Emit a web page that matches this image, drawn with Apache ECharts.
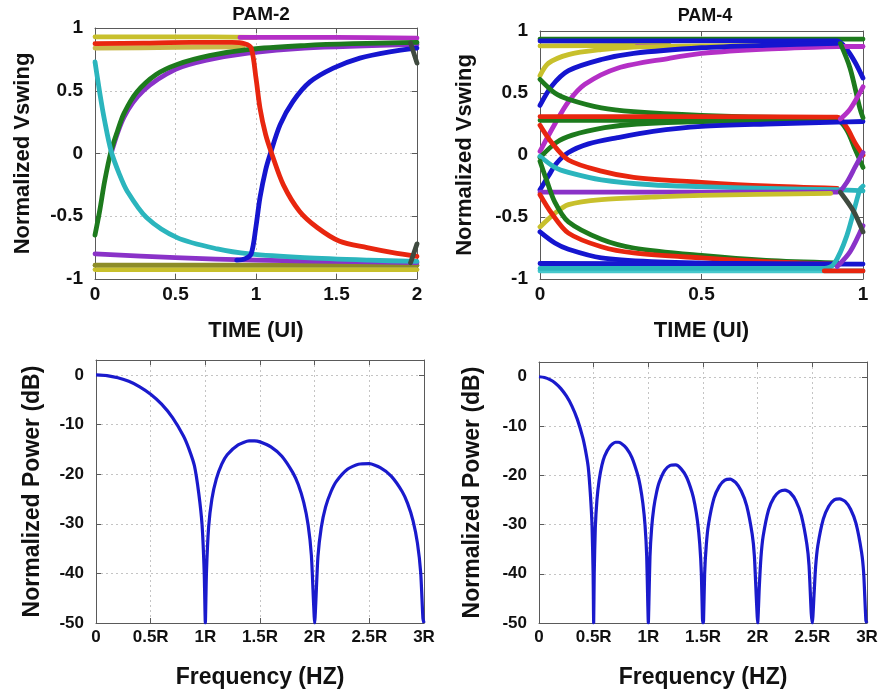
<!DOCTYPE html>
<html>
<head>
<meta charset="utf-8">
<script src="https://cdn.jsdelivr.net/npm/echarts@6/dist/echarts.min.js"></script>
<style>
  html, body { margin: 0; padding: 0; background: #fff; }
  #chart { width: 883px; height: 698px; }
</style>
</head>
<body>
<div id="chart"></div>
<script>
// ---------- PAM-2 eye traces: [time (UI), normalized swing] ----------
const pam2TopYellow   = [[0, 0.93], [0.5, 0.93], [1.0, 0.925]];
const pam2TopKhaki    = [[0, 0.84], [0.5, 0.845], [0.92, 0.85]];
const pam2TopMagenta  = [[0.9, 0.925], [1.5, 0.925], [2, 0.92]];
const pam2RisePurple  = [[0.1, 0.0], [0.18, 0.29], [0.3, 0.5], [0.5, 0.67], [0.7, 0.745], [0.95, 0.8], [1.3, 0.84], [2, 0.87]];
const pam2RiseGreen   = [[0, -0.65], [0.03, -0.45], [0.06, -0.22], [0.1, 0.02], [0.14, 0.18], [0.18, 0.32], [0.26, 0.49], [0.38, 0.63], [0.51, 0.71], [0.71, 0.78], [0.96, 0.83], [1.3, 0.86], [1.6, 0.875], [2, 0.885]];
const pam2FallCyan    = [[0, 0.73], [0.03, 0.48], [0.06, 0.26], [0.1, 0.02], [0.15, -0.16], [0.2, -0.3], [0.32, -0.51], [0.51, -0.67], [0.76, -0.76], [0.96, -0.8], [1.3, -0.83], [1.7, -0.85], [2, -0.86]];
const pam2BottomYellow = [[0, -0.925], [2, -0.925]];
const pam2BottomOlive  = [[0, -0.89], [2, -0.89]];
const pam2BottomPurple = [[0, -0.8], [0.5, -0.83], [1, -0.85], [1.5, -0.86], [2, -0.87]];
const pam2RiseBlue    = [[0.88, -0.85], [0.93, -0.84], [0.97, -0.8], [1.0, -0.58], [1.025, -0.35], [1.06, -0.13], [1.087, -0.01], [1.15, 0.23], [1.23, 0.415], [1.335, 0.57], [1.48, 0.68], [1.645, 0.76], [1.83, 0.81], [2, 0.84]];
const pam2FallRed     = [[0, 0.875], [0.3, 0.88], [0.6, 0.885], [0.85, 0.885], [0.93, 0.875], [0.97, 0.84], [1.0, 0.6], [1.025, 0.36], [1.06, 0.15], [1.1, -0.01], [1.17, -0.25], [1.27, -0.46], [1.38, -0.59], [1.52, -0.7], [1.69, -0.75], [1.85, -0.79], [2, -0.82]];
const pam2EdgeDown    = [[1.96, 0.88], [2, 0.72]];
const pam2EdgeUp      = [[1.96, -0.87], [2, -0.72]];

// ---------- PAM-4 eye traces ----------
const pam4TopGreen      = [[0, 0.935], [1, 0.935]];
const pam4TopBlue       = [[0, 0.92], [0.5, 0.92], [0.92, 0.92], [0.95, 0.85], [0.975, 0.75], [1, 0.62]];
const pam4TopYellow     = [[0, 0.88], [0.4, 0.885]];
const pam4TopMagenta    = [[0.3, 0.875], [1, 0.875]];
const pam4RiseYellow    = [[0, 0.64], [0.026, 0.74], [0.088, 0.81], [0.19, 0.85], [0.29, 0.87], [0.5, 0.88], [0.9, 0.885]];
const pam4RiseBlueHigh  = [[0, 0.4], [0.036, 0.555], [0.088, 0.68], [0.19, 0.77], [0.29, 0.82], [0.5, 0.865], [0.7, 0.885], [0.92, 0.9]];
const pam4RiseMagenta   = [[0, 0.03], [0.046, 0.25], [0.088, 0.43], [0.139, 0.57], [0.24, 0.7], [0.4, 0.78], [0.5, 0.82], [0.7, 0.855], [0.92, 0.875]];
const pam4FallGreenHigh = [[0, 0.61], [0.046, 0.5], [0.088, 0.45], [0.19, 0.38], [0.29, 0.35], [0.5, 0.32], [0.7, 0.305], [0.92, 0.3]];
const pam4FlatRed       = [[0, 0.31], [0.5, 0.31], [0.92, 0.305], [0.95, 0.22], [0.975, 0.1], [1, 0.0]];
const pam4FlatGreen     = [[0, 0.28], [0.92, 0.28], [0.95, 0.2], [0.975, 0.05], [1, -0.1]];
const pam4RiseGreenMid  = [[0, -0.02], [0.05, 0.1], [0.1, 0.16], [0.2, 0.22], [0.3, 0.25], [0.5, 0.27], [0.9, 0.28]];
const pam4RiseBlueMid   = [[0, -0.28], [0.026, -0.17], [0.05, -0.07], [0.088, 0.02], [0.15, 0.09], [0.24, 0.14], [0.35, 0.19], [0.5, 0.23], [0.7, 0.25], [0.92, 0.265], [1, 0.27]];
const pam4FallRedMid    = [[0, 0.24], [0.036, 0.1], [0.088, -0.04], [0.19, -0.13], [0.29, -0.18], [0.5, -0.22], [0.7, -0.25], [0.92, -0.27]];
const pam4FallCyanMid   = [[0, -0.01], [0.046, -0.1], [0.088, -0.14], [0.19, -0.2], [0.345, -0.24], [0.5, -0.255], [0.7, -0.27], [0.92, -0.28], [1, -0.29]];
const pam4FlatPurple    = [[0, -0.3], [0.5, -0.3], [0.92, -0.3], [0.95, -0.22], [0.975, -0.1], [1, 0.02]];
const pam4RiseYellowLow = [[0, -0.58], [0.046, -0.47], [0.088, -0.4], [0.19, -0.36], [0.345, -0.34], [0.5, -0.325], [0.9, -0.31]];
const pam4FallGreenLow  = [[0, -0.05], [0.02, -0.2], [0.046, -0.38], [0.088, -0.54], [0.19, -0.68], [0.29, -0.75], [0.5, -0.81], [0.7, -0.85], [0.92, -0.87]];
const pam4FallRedLow    = [[0, -0.32], [0.036, -0.47], [0.088, -0.63], [0.19, -0.74], [0.29, -0.79], [0.5, -0.83], [0.7, -0.86], [0.92, -0.88]];
const pam4FallBlueLow   = [[0, -0.62], [0.046, -0.71], [0.088, -0.76], [0.19, -0.83], [0.345, -0.86], [0.6, -0.875], [0.92, -0.88]];
const pam4FlatBlueLow   = [[0, -0.875], [1, -0.88]];
const pam4FlatCyanLow   = [[0, -0.935], [1, -0.935]];
const pam4RiseCyanLow   = [[0, -0.915], [0.88, -0.915], [0.91, -0.88], [0.95, -0.65], [0.99, -0.28], [1, -0.25]];
const pam4FlatRedBottom = [[0.88, -0.935], [1, -0.935]];
const pam4RisePurpleLow = [[0.92, -0.9], [0.96, -0.78], [1, -0.57]];
const pam4FallDarkRight = [[0.93, -0.3], [0.97, -0.45], [1, -0.62]];
const pam4FallGreenRight = [[0.93, 0.9], [0.96, 0.7], [0.99, 0.38], [1, 0.3]];
const pam4RiseMagentaRight = [[0.93, 0.29], [0.96, 0.37], [1, 0.55]];

// ---------- Power spectra: [frequency (×R), normalized power (dB)] ----------
const psdPam2 = [
  [0, 0], [0.1, -0.14], [0.2, -0.58], [0.3, -1.3], [0.4, -2.4], [0.5, -3.9], [0.6, -5.9], [0.7, -8.6], [0.8, -12.3], [0.85, -14.9], [0.9, -18.3], [0.94, -23.9], [0.97, -30.2], [0.99, -40], [1.0, -50],
  [1.01, -40], [1.03, -30.7], [1.06, -25], [1.1, -21], [1.15, -18], [1.2, -16.1], [1.3, -14.1], [1.4, -13.3], [1.45, -13.3], [1.5, -13.5], [1.6, -14.5], [1.7, -16.4], [1.8, -19.7], [1.85, -22.1], [1.9, -25.7], [1.94, -30.2], [1.97, -36.4], [1.99, -46], [2.0, -50],
  [2.01, -46], [2.03, -36.6], [2.06, -30.8], [2.1, -26.6], [2.15, -23.5], [2.2, -21.4], [2.3, -19], [2.4, -18], [2.5, -17.9], [2.6, -18.7], [2.7, -20.4], [2.8, -23.5], [2.85, -25.9], [2.9, -29.4], [2.94, -33.9], [2.97, -39.9], [2.99, -49], [3.0, -50]
];
const psdPam4 = [
  [0, 0], [0.05, -0.14], [0.1, -0.58], [0.15, -1.3], [0.2, -2.4], [0.25, -3.9], [0.3, -5.9], [0.35, -8.6], [0.4, -12.3], [0.425, -14.9], [0.45, -18.3], [0.47, -23.9], [0.485, -30.2], [0.495, -40], [0.5, -50],
  [0.505, -40], [0.515, -30.7], [0.53, -25], [0.55, -21], [0.575, -18], [0.6, -16.1], [0.65, -14.1], [0.7, -13.3], [0.725, -13.3], [0.75, -13.5], [0.8, -14.5], [0.85, -16.4], [0.9, -19.7], [0.925, -22.1], [0.95, -25.7], [0.97, -30.2], [0.985, -36.4], [0.995, -46], [1.0, -50],
  [1.005, -46], [1.015, -36.6], [1.03, -30.8], [1.05, -26.6], [1.075, -23.5], [1.1, -21.4], [1.15, -19], [1.2, -18], [1.25, -17.9], [1.3, -18.7], [1.35, -20.4], [1.4, -23.5], [1.425, -25.9], [1.45, -29.4], [1.47, -33.9], [1.485, -39.9], [1.495, -49], [1.5, -50],
  [1.505, -49.5], [1.515, -40], [1.53, -34.2], [1.55, -30], [1.6, -24.7], [1.65, -22.2], [1.7, -21], [1.75, -20.8], [1.8, -21.5], [1.85, -23.2], [1.9, -26.2], [1.95, -32], [1.97, -36.4], [1.99, -46], [2.0, -50],
  [2.015, -42.6], [2.03, -36.7], [2.05, -32.4], [2.1, -27], [2.15, -24.5], [2.2, -23.3], [2.25, -23], [2.3, -23.6], [2.35, -25.2], [2.4, -28.2], [2.45, -34], [2.47, -38.4], [2.49, -48], [2.5, -50],
  [2.515, -44.5], [2.53, -38.6], [2.55, -34.3], [2.6, -28.9], [2.65, -26.3], [2.7, -25], [2.75, -24.8], [2.8, -25.3], [2.85, -26.9], [2.9, -29.8], [2.95, -35.6], [2.97, -40], [2.99, -49.5], [3.0, -50]
];

// ---------- axis ticks ----------
const eyeSwingTicks = [-1, -0.5, 0, 0.5, 1];
const freqTicks = [0, 0.5, 1, 1.5, 2, 2.5, 3];
const powerTicks = [-50, -40, -30, -20, -10, 0];

// ---------- styling ----------
const FONT = '"Liberation Sans", Arial, sans-serif';
const FRAME = '#5a5a5a';
const C = {
  blue: '#1515cf', green: '#1d7a1d', red: '#e8260f', cyan: '#2bb5bd',
  magenta: '#b42fc6', purple: '#8a32c8', yellow: '#c8c02c', khaki: '#c9b84a',
  olive: '#8c8c28', dark: '#3f4a3f', psd: '#1a1acc'
};

// Draw order: first entries end up underneath.
const pam2Traces = [
  [pam2TopYellow, C.yellow], [pam2TopKhaki, C.khaki], [pam2TopMagenta, C.magenta],
  [pam2BottomYellow, C.yellow], [pam2BottomOlive, C.olive], [pam2BottomPurple, C.purple],
  [pam2RisePurple, C.purple], [pam2RiseGreen, C.green], [pam2FallCyan, C.cyan],
  [pam2RiseBlue, C.blue], [pam2FallRed, C.red],
  [pam2EdgeDown, C.dark], [pam2EdgeUp, C.dark]
];
const pam4Traces = [
  [pam4TopGreen, C.green], [pam4TopYellow, C.yellow], [pam4TopBlue, C.blue], [pam4TopMagenta, C.magenta],
  [pam4RiseYellow, C.yellow], [pam4RiseMagenta, C.magenta], [pam4RiseBlueHigh, C.blue],
  [pam4FallGreenHigh, C.green], [pam4FlatGreen, C.green], [pam4RiseGreenMid, C.green],
  [pam4FlatRed, C.red], [pam4RiseBlueMid, C.blue], [pam4FallRedMid, C.red], [pam4FallCyanMid, C.cyan],
  [pam4FlatPurple, C.purple], [pam4RiseYellowLow, C.yellow],
  [pam4FallGreenLow, C.green], [pam4FallRedLow, C.red], [pam4FallBlueLow, C.blue],
  [pam4FlatBlueLow, C.blue], [pam4FlatCyanLow, '#46c8cc'], [pam4RiseCyanLow, C.cyan],
  [pam4FlatRedBottom, C.red], [pam4RisePurpleLow, C.purple], [pam4FallDarkRight, C.dark],
  [pam4FallGreenRight, C.green], [pam4RiseMagentaRight, C.magenta]
];

const grids = [
  { left: 95,  top: 28,  width: 322, height: 251 },
  { left: 540, top: 31,  width: 323, height: 248 },
  { left: 96,  top: 360, width: 328, height: 263 },
  { left: 539, top: 362, width: 328, height: 261 }
];

const dotted = { show: true, lineStyle: { color: '#c4c4c4', type: [2, 3], width: 1 } };
const tickInside = { show: true, inside: true, length: 5, lineStyle: { color: FRAME } };
const frameLine = { show: true, onZero: false, lineStyle: { color: FRAME, width: 1 } };

function mainX(gi, min, max, interval, labelFmt, name, nameGap, fontSize, nameSize) {
  return {
    type: 'value', gridIndex: gi, position: 'bottom', min, max, interval,
    axisLine: frameLine, axisTick: tickInside, splitLine: dotted,
    axisLabel: { margin: 6, color: '#111', fontFamily: FONT, fontWeight: 'bold', fontSize, formatter: labelFmt },
    name, nameLocation: 'middle', nameGap,
    nameTextStyle: { color: '#111', fontFamily: FONT, fontWeight: 'bold', fontSize: nameSize }
  };
}
function mainY(gi, min, max, interval, ticks, name, nameGap, fontSize, nameSize) {
  return {
    type: 'value', gridIndex: gi, position: 'left', min, max, interval,
    axisLine: frameLine, axisTick: tickInside, splitLine: dotted,
    axisLabel: {
      margin: 12, color: '#111', fontFamily: FONT, fontWeight: 'bold', fontSize,
      formatter: v => (ticks.some(t => Math.abs(t - v) < 1e-9) ? String(v) : '')
    },
    name, nameLocation: 'middle', nameGap,
    nameTextStyle: { color: '#111', fontFamily: FONT, fontWeight: 'bold', fontSize: nameSize }
  };
}
function mirrorX(gi, min, max, interval) {
  return { type: 'value', gridIndex: gi, position: 'top', min, max, interval,
    axisLine: frameLine, axisTick: tickInside, axisLabel: { show: false }, splitLine: { show: false } };
}
function mirrorY(gi, min, max, interval) {
  return { type: 'value', gridIndex: gi, position: 'right', min, max, interval,
    axisLine: frameLine, axisTick: tickInside, axisLabel: { show: false }, splitLine: { show: false } };
}

const freqFmt = v => (v === 0 ? '0' : v + 'R');

const xAxis = [
  mainX(0, 0, 2, 0.5, null, 'TIME (UI)', 41, 19, 22),
  mainX(1, 0, 1, 0.5, null, 'TIME (UI)', 41, 19, 22),
  mainX(2, freqTicks[0], freqTicks[freqTicks.length - 1], 0.5, freqFmt, 'Frequency (HZ)', 43, 17, 23),
  mainX(3, freqTicks[0], freqTicks[freqTicks.length - 1], 0.5, freqFmt, 'Frequency (HZ)', 43, 17, 23),
  mirrorX(0, 0, 2, 0.5), mirrorX(1, 0, 1, 0.5), mirrorX(2, 0, 3, 0.5), mirrorX(3, 0, 3, 0.5)
];
const yAxis = [
  mainY(0, eyeSwingTicks[0], eyeSwingTicks[4], 0.5, eyeSwingTicks, 'Normalized Vswing', 61, 19, 22),
  mainY(1, eyeSwingTicks[0], eyeSwingTicks[4], 0.5, eyeSwingTicks, 'Normalized Vswing', 64, 19, 22),
  mainY(2, powerTicks[0], 3, 10, powerTicks, 'Normalized Power (dB)', 52, 17, 23),
  mainY(3, powerTicks[0], 3, 10, powerTicks, 'Normalized Power (dB)', 55, 17, 23),
  mirrorY(0, -1, 1, 0.5), mirrorY(1, -1, 1, 0.5), mirrorY(2, -50, 3, 10), mirrorY(3, -50, 3, 10)
];

function traceSeries(list, axisIndex) {
  return list.map(([data, color]) => ({
    type: 'line', xAxisIndex: axisIndex, yAxisIndex: axisIndex, data,
    smooth: 0.3, showSymbol: false, silent: true, clip: true,
    lineStyle: { color, width: 4.8, cap: 'round', join: 'round' }
  }));
}

const series = [
  ...traceSeries(pam2Traces, 0),
  ...traceSeries(pam4Traces, 1),
  { type: 'line', xAxisIndex: 2, yAxisIndex: 2, data: psdPam2, smooth: 0.2,
    showSymbol: false, clip: true, lineStyle: { color: C.psd, width: 3.2 } },
  { type: 'line', xAxisIndex: 3, yAxisIndex: 3, data: psdPam4, smooth: 0.2,
    showSymbol: false, clip: true, lineStyle: { color: C.psd, width: 3.2 } }
];

const chart = echarts.init(document.getElementById('chart'), null, { renderer: 'canvas' });
chart.setOption({
  animation: false,
  backgroundColor: '#ffffff',
  title: [
    { text: 'PAM-2', left: 256, top: 0, textAlign: 'center',
      textStyle: { fontFamily: FONT, fontWeight: 'bold', fontSize: 19, color: '#111' } },
    { text: 'PAM-4', left: 700, top: 2, textAlign: 'center',
      textStyle: { fontFamily: FONT, fontWeight: 'bold', fontSize: 18, color: '#111' } }
  ],
  grid: grids.map(g => Object.assign({ show: false, containLabel: false }, g)),
  xAxis, yAxis, series
});
</script>
</body>
</html>
